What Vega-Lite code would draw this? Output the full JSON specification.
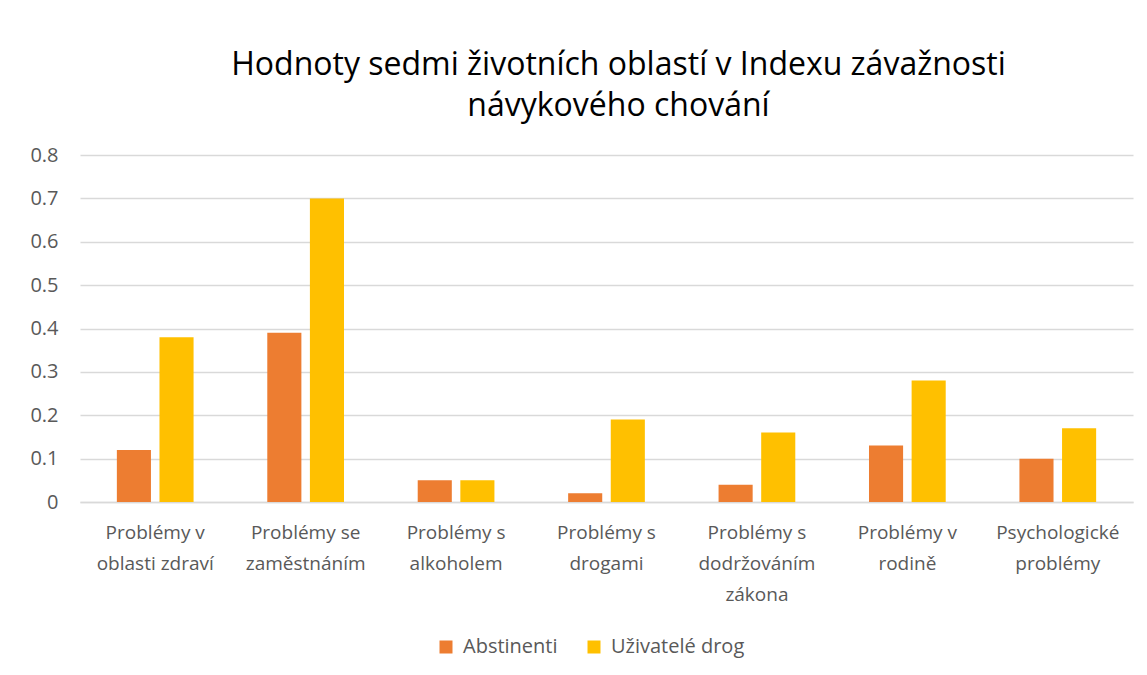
{
  "$schema": "https://vega.github.io/schema/vega-lite/v6.json",
  "width": 1053,
  "height": 347,
  "autosize": {"type": "none"},
  "padding": {"left": 80, "top": 155, "right": 14, "bottom": 173},
  "background": "white",
  "title": {
    "text": ["Hodnoty sedmi životních oblastí v Indexu závažnosti", "návykového chování"],
    "font": "Open Sans",
    "fontSize": 32,
    "fontWeight": "normal",
    "color": "#000000",
    "anchor": "middle",
    "frame": "group",
    "dx": 12,
    "offset": 22,
    "lineHeight": 41
  },
  "data": {
    "values": [
      {"oblast": "Problémy v|oblasti zdraví", "skupina": "Abstinenti", "hodnota": 0.12},
      {"oblast": "Problémy v|oblasti zdraví", "skupina": "Uživatelé drog", "hodnota": 0.38},
      {"oblast": "Problémy se|zaměstnáním", "skupina": "Abstinenti", "hodnota": 0.39},
      {"oblast": "Problémy se|zaměstnáním", "skupina": "Uživatelé drog", "hodnota": 0.70},
      {"oblast": "Problémy s|alkoholem", "skupina": "Abstinenti", "hodnota": 0.05},
      {"oblast": "Problémy s|alkoholem", "skupina": "Uživatelé drog", "hodnota": 0.05},
      {"oblast": "Problémy s|drogami", "skupina": "Abstinenti", "hodnota": 0.02},
      {"oblast": "Problémy s|drogami", "skupina": "Uživatelé drog", "hodnota": 0.19},
      {"oblast": "Problémy s|dodržováním|zákona", "skupina": "Abstinenti", "hodnota": 0.04},
      {"oblast": "Problémy s|dodržováním|zákona", "skupina": "Uživatelé drog", "hodnota": 0.16},
      {"oblast": "Problémy v|rodině", "skupina": "Abstinenti", "hodnota": 0.13},
      {"oblast": "Problémy v|rodině", "skupina": "Uživatelé drog", "hodnota": 0.28},
      {"oblast": "Psychologické|problémy", "skupina": "Abstinenti", "hodnota": 0.10},
      {"oblast": "Psychologické|problémy", "skupina": "Uživatelé drog", "hodnota": 0.17}
    ]
  },
  "mark": {"type": "bar"},
  "encoding": {
    "x": {
      "field": "oblast",
      "type": "nominal",
      "sort": null,
      "title": null,
      "scale": {"paddingInner": 0.49, "paddingOuter": 0.245},
      "axis": {
        "labelExpr": "split(datum.label, '|')",
        "labelAngle": 0,
        "labelFont": "Open Sans",
        "labelFontSize": 19,
        "labelColor": "#595959",
        "labelLineHeight": 31,
        "labelPadding": 21,
        "labelBaseline": "top",
        "ticks": false,
        "domainColor": "#d9d9d9",
        "domainWidth": 1.5,
        "labelLimit": 0
      }
    },
    "xOffset": {
      "field": "skupina",
      "type": "nominal",
      "scale": {"paddingInner": 0.2, "paddingOuter": 0}
    },
    "y": {
      "field": "hodnota",
      "type": "quantitative",
      "title": null,
      "scale": {"domain": [0, 0.8]},
      "axis": {
        "values": [0, 0.1, 0.2, 0.3, 0.4, 0.5, 0.6, 0.7, 0.8],
        "labelExpr": "datum.value == 0 ? '0' : format(datum.value, '.1f')",
        "labelFont": "Open Sans",
        "labelFontSize": 20,
        "labelColor": "#595959",
        "labelPadding": 22,
        "ticks": false,
        "domain": false,
        "gridColor": "#d9d9d9",
        "gridWidth": 1.5
      }
    },
    "color": {
      "field": "skupina",
      "type": "nominal",
      "scale": {"domain": ["Abstinenti", "Uživatelé drog"], "range": ["#ED7D31", "#FFC000"]},
      "legend": {
        "title": null,
        "orient": "none",
        "legendX": 356,
        "legendY": 482,
        "direction": "horizontal",
        "symbolType": "square",
        "symbolSize": 169,
        "symbolStrokeWidth": 0,
        "labelFont": "Open Sans",
        "labelFontSize": 20,
        "labelColor": "#595959",
        "labelOffset": 7,
        "columnPadding": 26
      }
    }
  },
  "config": {"view": {"stroke": null}}
}
